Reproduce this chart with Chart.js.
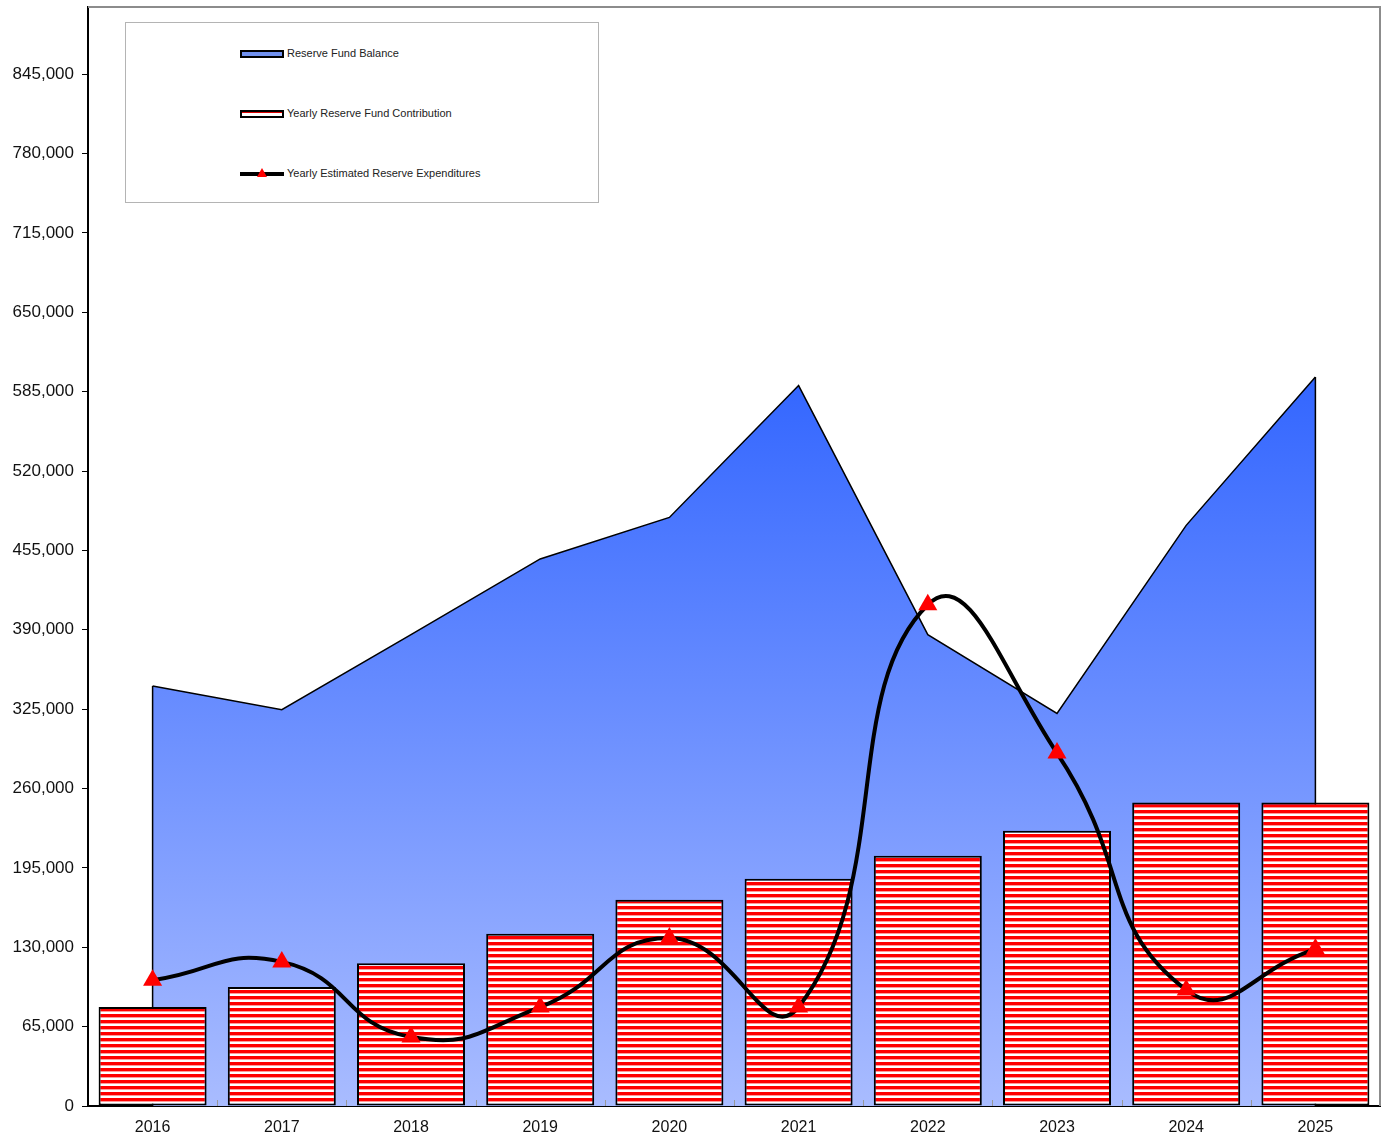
<!DOCTYPE html>
<html>
<head>
<meta charset="utf-8">
<script src="https://cdn.jsdelivr.net/npm/chart.js@4/dist/chart.umd.min.js"></script>
<style>
  body { margin: 0; background: #fff; font-family: "Liberation Sans", Arial, sans-serif; }
  #wrap { position: relative; width: 1387px; height: 1138px; }
  #legend {
    position: absolute; left: 125px; top: 22px; width: 472px; height: 179px;
    border: 1px solid #b4b4b4; background: #fff;
  }
  .item { position: absolute; left: 114px; height: 14px; font-size: 11px; color: #222; line-height: 14px; }
  .item span { position: absolute; left: 47px; top: -1px; white-space: nowrap; }
  .sw { position: absolute; left: 0; top: 3px; width: 40px; height: 4px; border: 2px solid #000; }
  .line { position: absolute; left: 0; top: 5px; width: 44px; height: 4px; background: #000; }
  .tri { position: absolute; left: 17px; top: 1px; width: 0; height: 0;
    border-left: 5px solid transparent; border-right: 5px solid transparent; border-bottom: 9px solid #f00; }
</style>
</head>
<body>
<div id="wrap">
  <canvas id="chart" width="1387" height="1138"></canvas>
  <div id="legend">
    <div class="item" style="top:24px"><div class="sw" style="background:#7090ee"></div><span>Reserve Fund Balance</span></div>
    <div class="item" style="top:84px"><div class="sw" style="background:#fff;box-shadow:inset 0 1px 0 #d00"></div><span>Yearly Reserve Fund Contribution</span></div>
    <div class="item" style="top:144px"><div class="line"></div><div class="tri"></div><span>Yearly Estimated Reserve Expenditures</span></div>
  </div>
</div>
<script>
// Données
const years = ['2016', '2017', '2018', '2019', '2020', '2021', '2022', '2023', '2024', '2025'];
const fundBalance = [344000, 324500, 386000, 448000, 482000, 590000, 386000, 321500, 475500, 597000];
const contributions = [81000, 97500, 117000, 141000, 169000, 186000, 205000, 225500, 248500, 248500];
const expenditures = [103000, 118000, 56500, 81000, 137500, 81000, 410500, 289000, 95000, 128500];
const yTicks = [0, 65000, 130000, 195000, 260000, 325000, 390000, 455000, 520000, 585000, 650000, 715000, 780000, 845000];
const yMax = 900000;

// Motif rayé rouge/blanc pour les barres
function stripePattern() {
    const c = document.createElement('canvas');
    c.width = 4;
    c.height = 6;
    const g = c.getContext('2d');
    g.fillStyle = '#ffffff';
    g.fillRect(0, 0, 4, 6);
    g.fillStyle = '#ff0000';
    g.fillRect(0, 0, 4, 3);
    g.fillStyle = '#ff9a9a';
    g.fillRect(0, 3, 4, 1);
    return g.createPattern(c, 'repeat');
}

const ctx = document.getElementById('chart').getContext('2d');

// Bords verticaux de l'aire + cadre gris
const framePlugin = {
    id: 'frame',
    afterDatasetDraw(chart, args) {
        if (args.index !== 0) return;
        const meta = chart.getDatasetMeta(0);
        const base = chart.scales.y.getPixelForValue(0);
        const c = chart.ctx;
        c.save();
        c.strokeStyle = '#000';
        c.lineWidth = 1.5;
        [meta.data[0], meta.data[meta.data.length - 1]].forEach(p => {
            c.beginPath();
            c.moveTo(p.x, p.y);
            c.lineTo(p.x, base);
            c.stroke();
        });
        c.restore();
    },
    afterDraw(chart) {
        const { left, right, top, bottom } = chart.chartArea;
        const c = chart.ctx;
        const x = chart.scales.x;
        c.save();
        c.strokeStyle = '#8c8c8c';
        c.lineWidth = 2;
        c.beginPath();
        c.moveTo(left, top);
        c.lineTo(right, top);
        c.lineTo(right, bottom);
        c.stroke();
        // petites graduations entre catégories
        c.lineWidth = 1;
        c.strokeStyle = '#999';
        for (let i = 1; i < years.length; i++) {
            const px = Math.round(x.getPixelForValue(i - 0.5)) + 0.5;
            c.beginPath();
            c.moveTo(px, bottom);
            c.lineTo(px, bottom - 6);
            c.stroke();
        }
        c.restore();
    }
};

new Chart(ctx, {
    type: 'bar',
    data: {
        labels: years,
        datasets: [
            {
                type: 'line',
                label: 'Reserve Fund Balance',
                data: fundBalance,
                order: 3,
                fill: 'origin',
                tension: 0,
                pointRadius: 0,
                borderColor: '#000',
                borderWidth: 1.5,
                backgroundColor: (context) => {
                    const chart = context.chart;
                    if (!chart.chartArea) return '#7090ee';
                    const y0 = chart.scales.y.getPixelForValue(Math.max(...fundBalance));
                    const y1 = chart.scales.y.getPixelForValue(0);
                    const grad = chart.ctx.createLinearGradient(0, y0, 0, y1);
                    grad.addColorStop(0, '#3366ff');
                    grad.addColorStop(1, '#a9bcff');
                    return grad;
                }
            },
            {
                type: 'bar',
                label: 'Yearly Reserve Fund Contribution',
                data: contributions,
                order: 2,
                backgroundColor: stripePattern(),
                borderColor: '#000',
                borderWidth: 2,
                borderSkipped: false,
                barPercentage: 0.836,
                categoryPercentage: 1
            },
            {
                type: 'line',
                label: 'Yearly Estimated Reserve Expenditures',
                data: expenditures,
                order: 1,
                fill: false,
                tension: 0.5,
                borderColor: '#000',
                borderWidth: 4,
                pointStyle: 'triangle',
                pointRadius: 11,
                pointBackgroundColor: '#ff0000',
                pointBorderWidth: 0,
                pointBorderColor: '#ff0000'
            }
        ]
    },
    options: {
        responsive: false,
        animation: false,
        layout: { autoPadding: false, padding: { top: 7, right: 7, left: 0, bottom: 0 } },
        plugins: {
            legend: { display: false },
            tooltip: { enabled: false }
        },
        scales: {
            x: {
                offset: true,
                grid: { display: false, drawTicks: false },
                border: { display: true, color: '#000', width: 2 },
                ticks: {
                    color: '#111',
                    padding: 12,
                    font: { family: '"Liberation Sans", Arial, sans-serif', size: 16 }
                },
                afterFit(scale) {
                    scale.height = 32;
                    scale.paddingLeft = 0;
                    scale.paddingRight = 0;
                }
            },
            y: {
                min: 0,
                max: yMax,
                grid: { drawOnChartArea: false, tickLength: 6, tickColor: '#000' },
                border: { display: true, color: '#000', width: 2 },
                ticks: {
                    color: '#111',
                    padding: 8,
                    font: { family: '"Liberation Sans", Arial, sans-serif', size: 17 },
                    callback: (v) => v.toLocaleString('en-US')
                },
                afterBuildTicks(scale) {
                    scale.ticks = yTicks.map(v => ({ value: v }));
                    scale.min = 0;
                    scale.max = yMax;
                },
                afterFit(scale) {
                    scale.width = 88;
                    scale.paddingTop = 0;
                    scale.paddingBottom = 0;
                }
            }
        }
    },
    plugins: [framePlugin]
});
</script>
</body>
</html>
